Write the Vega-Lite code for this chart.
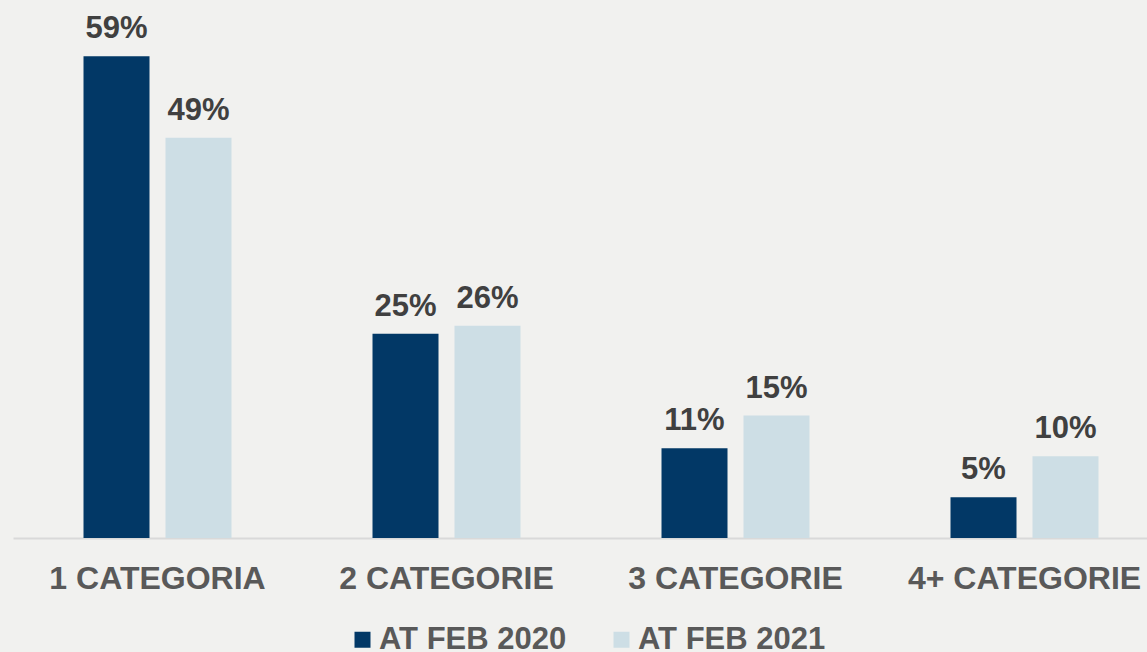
{
  "$schema": "https://vega.github.io/schema/vega-lite/v6.json",
  "autosize": {"type": "none"},
  "padding": {"left": 13, "top": 48, "right": 0, "bottom": 114},
  "width": 1134,
  "height": 490,
  "background": "#f1f1ef",
  "config": {
    "view": {"stroke": null},
    "font": "Liberation Sans"
  },
  "data": {
    "values": [
      {"categoria": "1 CATEGORIA", "periodo": "AT FEB 2020", "valore": 0.59},
      {"categoria": "1 CATEGORIA", "periodo": "AT FEB 2021", "valore": 0.49},
      {"categoria": "2 CATEGORIE", "periodo": "AT FEB 2020", "valore": 0.25},
      {"categoria": "2 CATEGORIE", "periodo": "AT FEB 2021", "valore": 0.26},
      {"categoria": "3 CATEGORIE", "periodo": "AT FEB 2020", "valore": 0.11},
      {"categoria": "3 CATEGORIE", "periodo": "AT FEB 2021", "valore": 0.15},
      {"categoria": "4+ CATEGORIE", "periodo": "AT FEB 2020", "valore": 0.05},
      {"categoria": "4+ CATEGORIE", "periodo": "AT FEB 2021", "valore": 0.10}
    ]
  },
  "encoding": {
    "x": {
      "field": "categoria",
      "type": "nominal",
      "sort": null,
      "scale": {"paddingInner": 0, "paddingOuter": 0, "range": [0, 1156]},
      "axis": {
        "title": null,
        "labelAngle": 0,
        "ticks": false,
        "domainColor": "#d9d9d9",
        "domainWidth": 2,
        "labelFontSize": 32,
        "labelFontWeight": "bold",
        "labelColor": "#595959",
        "labelPadding": 25,
        "labelLimit": 400,
        "labelOverlap": false
      }
    },
    "xOffset": {
      "field": "periodo",
      "type": "nominal",
      "scale": {"paddingInner": 0.195, "paddingOuter": 0.86}
    },
    "y": {
      "field": "valore",
      "type": "quantitative",
      "scale": {"domain": [0, 0.6], "nice": false},
      "axis": null
    }
  },
  "layer": [
    {
      "mark": {"type": "bar"},
      "encoding": {
        "color": {
          "field": "periodo",
          "type": "nominal",
          "scale": {"domain": ["AT FEB 2020", "AT FEB 2021"], "range": ["#023866", "#cddee5"]},
          "legend": {
            "title": null,
            "orient": "none",
            "legendX": 334,
            "legendY": 576,
            "direction": "horizontal",
            "symbolType": "square",
            "symbolSize": 256,
            "symbolStrokeWidth": 0,
            "labelFontSize": 31,
            "labelFontWeight": "bold",
            "labelColor": "#595959",
            "labelLimit": 400,
            "columnPadding": 39,
            "labelOffset": 1
          }
        }
      }
    },
    {
      "mark": {"type": "text", "baseline": "alphabetic", "dy": -18, "fontSize": 31, "fontWeight": "bold", "color": "#404040"},
      "encoding": {
        "text": {"field": "valore", "type": "quantitative", "format": ".0%"}
      }
    }
  ]
}
